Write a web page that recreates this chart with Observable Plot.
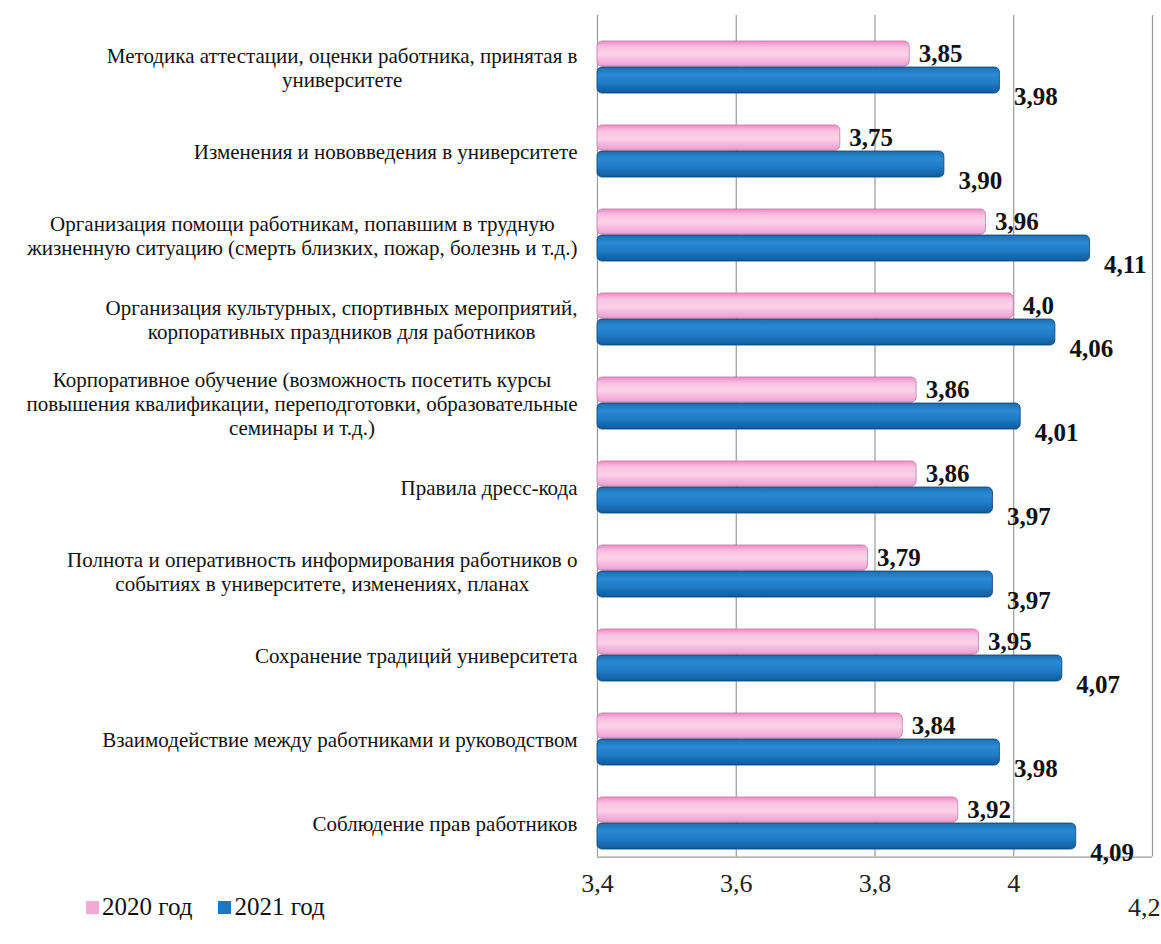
<!DOCTYPE html>
<html><head><meta charset="utf-8">
<script src="https://cdn.jsdelivr.net/npm/d3@7"></script>
<script src="https://cdn.jsdelivr.net/npm/@observablehq/plot@0.6"></script>
<style>
body{margin:0;background:#fff;}
#wrap{position:relative;width:1161px;height:944px;overflow:hidden;}
#wrap svg text, #wrap svg g{font-family:"Liberation Serif","Times New Roman",serif !important;}
#legend{position:absolute;left:86px;top:893px;font-family:"Liberation Serif","Times New Roman",serif;font-size:25px;color:#111;display:flex;gap:26px;align-items:center;}
#legend span.sw{display:inline-block;width:13px;height:13px;margin-right:3px;vertical-align:middle;position:relative;top:-2px;}
</style></head>
<body><div id="wrap"><div id="legend"></div></div>
<script>
const categories = [
  "Методика аттестации, оценки работника, принятая в\nуниверситете",
  "Изменения и нововведения в университете",
  "Организация помощи работникам, попавшим в трудную\nжизненную ситуацию (смерть близких, пожар, болезнь и т.д.)",
  "Организация культурных, спортивных мероприятий,\nкорпоративных праздников для работников",
  "Корпоративное обучение (возможность посетить курсы\nповышения квалификации, переподготовки, образовательные\nсеминары и т.д.)",
  "Правила дресс-кода",
  "Полнота и оперативность информирования работников о\nсобытиях в университете, изменениях, планах",
  "Сохранение традиций университета",
  "Взаимодействие между работниками и руководством",
  "Соблюдение прав работников"
];
const series = ["2020 год", "2021 год"];
const values2020 = [3.85, 3.75, 3.96, 4.0, 3.86, 3.86, 3.79, 3.95, 3.84, 3.92];
const values2021 = [3.98, 3.90, 4.11, 4.06, 4.01, 3.97, 3.97, 4.07, 3.98, 4.09];
const labels2020 = ["3,85","3,75","3,96","4,0","3,86","3,86","3,79","3,95","3,84","3,92"];
const labels2021 = ["3,98","3,90","4,11","4,06","4,01","3,97","3,97","4,07","3,98","4,09"];
const tickValues = [3.4, 3.6, 3.8, 4.0, 4.2];
const tickLabels = ["3,4", "3,6", "3,8", "4", "4,2"];

const colors = {"2020 год": "#f5a9d6", "2021 год": "#1c78c2"};

const rows = [];
categories.forEach((c, i) => {
  rows.push({i, cat: c, s: series[0], v: values2020[i], lab: labels2020[i]});
  rows.push({i, cat: c, s: series[1], v: values2021[i], lab: labels2021[i]});
});
const r20 = rows.filter(d => d.s === series[0]);
const r21 = rows.filter(d => d.s === series[1]);
const ticks = tickValues.map((v, k) => ({v, lab: tickLabels[k]}));

const FONT = "'Liberation Serif', 'Times New Roman', serif";
const LABEL_SIZE = 21;
const ctx = document.createElement("canvas").getContext("2d");
ctx.font = `${LABEL_SIZE}px "Liberation Serif", serif`;
const blockW = categories.map(c => Math.max(...c.split("\n").map(l => ctx.measureText(l).width)));

const catMarks = categories.map((c, i) => Plot.text([{i, cat: c}], {
  x: () => 3.4, y: d => d.i + 0.5, text: "cat",
  textAnchor: "middle", lineAnchor: "middle", lineHeight: 1.15,
  dx: -(20 + blockW[i] / 2), fontSize: LABEL_SIZE, fontFamily: FONT, fill: "#111"
}));

const plot = Plot.plot({
  width: 1161, height: 944,
  marginLeft: 0, marginRight: 0, marginTop: 0, marginBottom: 0,
  x: {domain: [3.4, 4.2], range: [597, 1152], axis: null},
  y: {domain: [0, 10], range: [25, 865], axis: null},
  style: {fontFamily: FONT, background: "#fff"},
  marks: [
    Plot.ruleX(tickValues, {x: d => d, y1: -0.12, y2: 9.9, stroke: "#9a9a9a", strokeWidth: 1.2}),
    Plot.ruleY([9.9], {x1: 3.4, x2: 4.2, stroke: "#9a9a9a", strokeWidth: 1.2}),
    Plot.rect(r20, {x1: () => 3.4, x2: "v", y1: d => d.i + 0.19, y2: d => d.i + 0.49, fill: "url(#g2020)", stroke: "#c97aa9", strokeWidth: 0.8, rx: 5}),
    Plot.rect(r21, {x1: () => 3.4, x2: "v", y1: d => d.i + 0.5, y2: d => d.i + 0.81, fill: "url(#g2021)", stroke: "#0d3f6e", strokeWidth: 0.8, rx: 5}),
    Plot.text(r20, {x: "v", y: d => d.i + 0.34, text: "lab", textAnchor: "start", dx: 9, dy: 0, fontSize: 25, fontWeight: "bold", fontFamily: FONT, fill: "#111"}),
    Plot.text(r21, {x: "v", y: d => d.i + 0.66, text: "lab", textAnchor: "start", dx: 14, dy: 16, fontSize: 25, fontWeight: "bold", fontFamily: FONT, fill: "#111"}),
    Plot.text(ticks.slice(0, -1), {x: "v", y: () => 10, text: "lab", dy: 18, textAnchor: "middle", fontSize: 26, fontFamily: FONT, fill: "#222"}),
    Plot.text(ticks.slice(-1), {x: "v", y: () => 10, text: "lab", dy: 42, dx: 8, textAnchor: "end", fontSize: 26, fontFamily: FONT, fill: "#222"}),
    ...catMarks
  ]
});

const svg = d3.select(plot);
const defs = svg.insert("defs", ":first-child");
function grad(id, stops) {
  const g = defs.append("linearGradient").attr("id", id).attr("x1", 0).attr("y1", 0).attr("x2", 0).attr("y2", 1);
  stops.forEach(([o, c]) => g.append("stop").attr("offset", o).attr("stop-color", c));
}
grad("g2020", [[0, "#f08cc6"], [0.25, "#f8c3e2"], [0.55, "#fbd2ea"], [1, "#ee9acb"]]);
grad("g2021", [[0, "#1a6fb6"], [0.3, "#2a8ad2"], [0.6, "#1f7dc6"], [1, "#0f5b9c"]]);

document.getElementById("wrap").prepend(plot);
const legend = document.getElementById("legend");
series.forEach(s => {
  const item = document.createElement("div");
  item.innerHTML = `<span class="sw" style="background:${colors[s]}"></span>${s}`;
  legend.appendChild(item);
});
</script></body></html>
